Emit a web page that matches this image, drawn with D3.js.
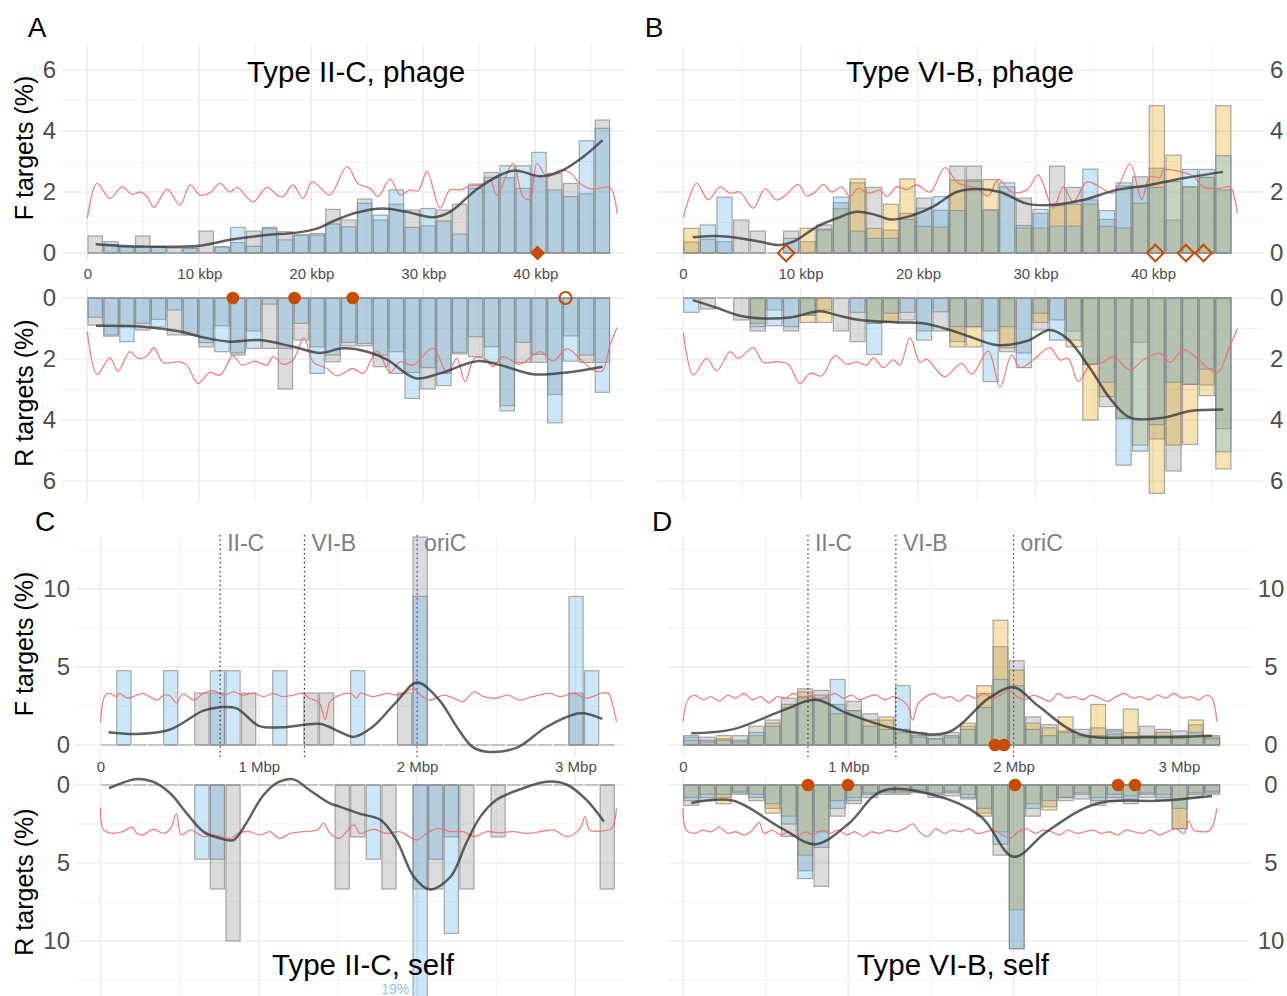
<!DOCTYPE html>
<html><head><meta charset="utf-8">
<script src="https://cdn.jsdelivr.net/npm/d3@7"></script>
<style>body{margin:0;background:#fff}svg{display:block}text{font-family:"Liberation Sans",Arial,Helvetica,sans-serif}</style>
</head><body><script>
// ---------------- DATA ----------------
const PHAGE_BIN = 1.415;   // kbp per bin (33 bins)
const SELF_BIN = 0.0985;   // Mbp per bin (33 bins)
const phageTicks = [0,10,20,30,40];
const selfTicks = [0,1,2,3];
const phageY = [0,2,4,6];
const selfY = [0,5,10];
const loci = [["II-C",0.756],["VI-B",1.288],["oriC",2.0]];

// Panel A (Type II-C, phage)
const A_F_gray = [0.56,0.37,0.2,0.56,0.2,0.16,0.16,0.72,0.2,0.34,0.72,0.8,0.7,0.59,0.64,1.43,1.08,1.77,1.08,1.6,1.41,0.89,1.41,1.6,2.12,2.64,2.47,2.12,2.5,2.61,2.28,1.94,4.36];
const A_F_blue = [0,0.27,0.2,0.2,0.2,0,0.16,0,0.2,0.84,0.22,0.84,0.43,0.59,0.59,0.95,0.86,1.63,1.24,2.07,0.84,1.46,1.05,0.62,2.26,2.48,2.86,2.86,3.3,2.07,1.85,3.68,4.09];
const A_R_gray = [0.89,1.21,0.94,1.05,0.7,1.21,1.21,1.6,0.91,1.87,1.08,1.65,2.98,1.38,1.6,2.09,1.57,1.57,2.25,1.76,2.44,2.98,2.47,1.78,1.92,1.6,3.53,2.11,2.11,3.16,1.24,2.11,2.11];
const A_R_blue = [0.63,1.25,1.43,0.83,0.95,0.39,1.21,1.46,1.76,1.8,1.65,0.2,1.65,0.83,2.47,1.87,1.45,1.49,1.87,2.47,3.29,2.28,2.87,1.83,1.27,2.11,3.7,1.45,1.85,4.09,2.07,1.87,3.09];
const A_F_smooth = [[0.75,0.29],[5,0.21],[10,0.24],[13,0.45],[16,0.59],[18.5,0.66],[20.5,0.8],[22,1.05],[24,1.32],[26.4,1.46],[28.5,1.35],[30.9,1.17],[32.4,1.35],[35,2.15],[38,2.7],[40.4,2.52],[42.2,2.67],[44.3,3.16],[46,3.7]];
const A_R_smooth = [[0.78,0.91],[5,0.94],[8.3,1.1],[10.1,1.27],[12.7,1.43],[15.4,1.38],[18.4,1.6],[20.8,1.8],[22.8,1.65],[25,1.76],[26.8,2.03],[29.3,2.63],[31.5,2.47],[34.8,2.07],[36.9,2.2],[39.8,2.5],[42.8,2.44],[46,2.25]];
const A_F_red = [[0,1.14],[0.87,2.28],[2.03,1.79],[3.1,2.17],[3.99,1.92],[4.71,2.0],[5.33,1.85],[5.96,1.5],[7.12,2.09],[8.28,1.57],[9.17,2.23],[10.06,1.9],[10.96,1.98],[11.85,2.28],[12.74,2.0],[13.37,2.15],[14.79,1.68],[16.04,2.15],[16.94,1.9],[17.47,1.85],[18.37,2.23],[19.26,1.79],[20.06,2.34],[20.78,2.15],[21.67,1.9],[23.19,2.83],[24.17,2.28],[25.24,2.12],[25.96,1.85],[27.04,2.42],[27.92,1.9],[28.81,2.07],[29.53,2.04],[30.33,2.67],[31.49,1.47],[32.38,2.07],[33.28,2.07],[34.17,2.2],[35.06,2.23],[35.96,2.39],[36.58,1.9],[38.0,2.94],[38.9,1.85],[39.53,1.76],[40.15,2.94],[41.04,2.5],[42.19,2.72],[43.13,2.63],[43.99,2.28],[45.15,2.09],[46.67,2.15],[47.3,1.3]];
const A_R_red = [[0,1.1],[0.87,2.5],[2.03,1.96],[2.74,2.4],[3.81,1.76],[4.53,1.98],[5.33,1.9],[5.96,1.63],[6.76,2.11],[8.28,2.09],[8.9,2.2],[9.88,2.8],[10.96,2.44],[11.85,2.53],[13.01,1.9],[13.81,2.2],[14.97,2.07],[16.04,2.2],[16.58,1.92],[17.47,2.17],[18.37,2.03],[19.35,1.3],[20.15,2.09],[21.4,2.31],[22.29,2.55],[23.72,2.31],[24.62,2.47],[25.87,1.74],[27.03,2.44],[27.92,2.09],[29.08,2.2],[30.87,1.65],[32.12,2.44],[33.01,1.98],[33.72,2.74],[34.62,1.96],[35.69,2.03],[36.22,2.25],[37.12,1.92],[38.63,2.17],[40.42,1.76],[41.58,2.07],[42.83,1.67],[44.26,2.09],[45.15,2.36],[45.96,2.4],[46.67,1.55],[47.3,0.97]];
const A_F_marks = [[40.2,"diamond",true]];
const A_R_marks = [[13.0,"circle",true],[18.5,"circle",true],[23.7,"circle",true],[42.7,"circle",false]];

// Panel B (Type VI-B, phage)
const B_F_gray = [0.36,0.45,0.37,1.08,0.72,0,0.72,0.37,0.92,1.65,2.3,2.15,0.75,1.3,1.8,1.4,2.85,2.85,1.41,2.17,1.8,1.3,2.85,2.15,1.74,1.1,2.2,2.5,2.78,1.08,2.17,2.48,2.07];
const B_F_blue = [0,0.92,1.83,0,0,0,0.48,0,0.78,1.83,0.72,0.48,0.48,1.1,1.47,1.85,1.39,2.35,1.41,2.3,0.9,1.43,0.88,0.88,2.75,1.39,2.3,2.17,2.15,2.34,2.74,2.74,3.19];
const B_F_orange = [0.81,0,0,0,0,0,0,0.81,0.75,1.45,2.43,0.81,1.6,2.43,0.87,0.85,2.39,2.4,2.41,0,0.82,0.82,1.55,1.6,1.6,0.87,0.82,1.63,4.83,3.21,2.17,2.48,4.83];
const B_R_gray = [0,0.36,0,0.72,1.08,0.39,1.08,0.56,0.39,1.08,1.43,0.83,0.77,0.72,1.08,1.08,1.43,0.94,1.08,1.76,1.8,1.05,0.72,1.08,2.17,3.56,3.95,1.45,4.62,5.67,2.83,2.85,4.28];
const B_R_blue = [0.47,0,0,0,0.94,0.91,0.94,0.56,0,0,0.47,1.85,0.5,0.47,1.38,0.45,0.94,0.94,2.74,0.94,2.28,0.5,1.38,1.38,2.17,2.76,5.48,5.02,4.15,2.76,2.83,2.33,5.04];
const B_R_orange = [0,0,0,0,0.83,0,0,0.8,0.8,0,0,0.83,0.77,0,0,0,1.6,1.6,0,1.63,0,0.8,0,1.6,4.0,3.23,3.95,4.82,6.4,4.82,4.8,3.2,5.6];
const B_F_smooth = [[0.83,0.52],[2.87,0.56],[4.57,0.5],[6.55,0.37],[8.26,0.26],[9.39,0.37],[11.38,0.86],[13.08,1.14],[14.78,1.35],[16.49,1.24],[17.62,1.1],[19.32,1.21],[21.28,1.52],[23.29,2.0],[25.0,2.1],[26.98,2.0],[29.25,1.62],[31.23,1.57],[34.04,1.74],[36.91,2.07],[39.74,2.23],[42.55,2.45],[45.96,2.66]];
const B_R_smooth = [[0.83,0.07],[2.87,0.32],[4.85,0.58],[6.83,0.67],[9.11,0.64],[11.66,0.43],[13.08,0.56],[15.06,0.72],[18.19,0.8],[20.45,0.83],[22.72,1.05],[24.43,1.27],[26.7,1.54],[29.25,1.41],[31.23,1.05],[32.66,1.32],[34.64,2.3],[36.34,3.29],[38.04,3.92],[40.88,3.92],[43.15,3.7],[45.98,3.65]];
const B_F_red = [[0.03,1.17],[1.17,2.28],[2.15,1.74],[3.15,2.17],[4.0,1.96],[4.85,2.0],[5.98,1.47],[6.98,2.1],[7.97,1.74],[8.83,1.93],[9.81,2.25],[10.53,1.87],[11.23,2.0],[11.94,2.25],[12.66,2.0],[13.51,2.17],[14.21,1.85],[14.92,2.12],[15.77,1.96],[16.77,2.06],[17.34,1.85],[18.19,2.17],[19.04,2.08],[19.89,2.23],[21.02,2.0],[22.3,2.8],[23.29,2.33],[23.86,2.23],[25.0,2.12],[25.98,1.87],[26.83,2.41],[27.97,2.0],[29.25,2.06],[30.24,2.55],[31.51,1.47],[32.37,2.17],[33.22,1.68],[34.36,2.33],[35.21,2.23],[36.62,1.96],[38.04,2.92],[39.04,1.76],[39.74,2.5],[40.6,2.48],[40.88,2.72],[42.3,2.67],[43.43,2.52],[44.28,2.17],[45.7,2.12],[46.55,2.17],[47.17,1.3]];
const B_R_red = [[0.03,1.13],[0.88,2.52],[2.02,1.98],[2.87,2.39],[4.0,1.76],[4.71,1.98],[5.98,1.63],[6.83,2.11],[7.97,2.09],[8.96,2.17],[9.96,2.8],[10.81,2.47],[11.8,2.55],[12.94,1.89],[13.93,2.17],[14.78,2.09],[15.63,2.2],[16.2,1.96],[17.05,2.28],[17.9,2.03],[18.47,2.2],[19.32,1.3],[20.17,2.11],[20.74,2.0],[21.59,2.36],[22.3,2.58],[23.72,2.14],[24.57,2.5],[25.98,1.74],[26.98,2.91],[27.97,1.87],[28.68,2.28],[29.81,2.03],[31.23,1.63],[32.09,2.03],[32.79,1.98],[33.64,2.74],[34.64,2.2],[35.77,2.11],[36.62,1.92],[38.04,2.36],[39.17,2.03],[40.6,1.81],[41.45,2.11],[42.58,1.7],[43.72,1.96],[44.71,2.31],[45.56,2.44],[46.41,1.7],[47.17,1.02]];
const B_F_marks = [[8.77,"diamond",false],[40.2,"diamond",false],[42.8,"diamond",false],[44.3,"diamond",false]];
const B_R_marks = [];

// Panel C (Type II-C, self)
const C_F_gray = [0,0,0,0,0,0,3.33,3.33,0,3.33,0,0,0,3.33,3.33,0,0,0,0,3.33,13.33,0,0,0,0,0,0,0,0,0,3.33,0,0];
const C_F_blue = [0,4.76,0,0,4.76,0,0,4.76,4.76,0,0,4.76,0,0,0,0,4.76,0,0,0,9.52,0,0,0,0,0,0,0,0,0,9.52,4.76,0];
const C_R_gray = [0,0,0,0,0,0,0,6.67,10,0,0,0,0,0,0,6.67,3.33,0,6.67,0,6.67,6.67,3.33,6.67,0,3.33,0,0,0,0,0,0,6.67];
const C_R_blue = [0,0,0,0,0,0,4.76,4.76,0,0,0,0,0,0,0,0,0,4.76,0,0,19.05,4.76,9.52,0,0,0,0,0,0,0,0,0,0];
const C_F_smooth = [[0.05,0.81],[0.23,0.7],[0.44,0.99],[0.65,2.2],[0.755,2.42],[0.86,2.35],[1.0,1.23],[1.15,1.13],[1.39,1.35],[1.51,0.85],[1.6,0.52],[1.72,1.17],[1.87,2.77],[2.0,4.0],[2.14,2.88],[2.25,1.17],[2.35,-0.12],[2.44,-0.43],[2.63,-0.17],[2.82,1.17],[3.03,2.03],[3.17,1.67]];
const C_R_smooth = [[0.054,0.21],[0.229,-0.38],[0.33,-0.21],[0.44,0.53],[0.545,1.82],[0.65,2.99],[0.755,3.42],[0.84,3.53],[0.92,2.46],[1.03,0.64],[1.13,-0.21],[1.22,-0.36],[1.32,0.32],[1.45,1.18],[1.51,1.39],[1.64,1.85],[1.77,2.24],[1.87,3.53],[1.98,5.9],[2.08,6.7],[2.21,5.9],[2.31,3.74],[2.4,2.03],[2.5,0.96],[2.67,0.21],[2.82,-0.21],[2.95,0.0],[3.07,0.96],[3.18,2.35]];
const C_F_red = [[0,1.45],[0.03,3.2],[0.06,3.31],[0.10,3.1],[0.12,3.31],[0.17,3.0],[0.23,3.2],[0.27,3.31],[0.31,3.1],[0.36,2.88],[0.40,3.2],[0.44,3.14],[0.48,2.7],[0.52,3.27],[0.59,2.88],[0.65,3.31],[0.71,3.48],[0.78,3.2],[0.84,3.4],[0.90,3.2],[0.97,3.31],[1.03,3.1],[1.09,3.31],[1.15,3.1],[1.22,3.2],[1.28,3.31],[1.32,3.0],[1.38,2.72],[1.42,1.65],[1.45,2.78],[1.51,3.2],[1.58,3.31],[1.62,3.0],[1.64,3.31],[1.72,3.1],[1.81,3.31],[1.87,3.2],[1.93,3.4],[1.98,3.63],[2.02,3.2],[2.08,2.88],[2.17,3.2],[2.23,3.0],[2.29,2.78],[2.36,3.4],[2.42,3.1],[2.50,3.0],[2.57,3.2],[2.65,2.88],[2.73,3.1],[2.84,3.31],[2.90,3.1],[2.99,3.31],[3.07,3.0],[3.16,3.31],[3.21,3.31],[3.23,2.78],[3.26,1.5]];
const C_R_red = [[0,1.45],[0.02,2.88],[0.08,3.1],[0.14,2.99],[0.20,2.71],[0.23,3.1],[0.27,3.2],[0.33,2.84],[0.40,3.1],[0.44,2.84],[0.48,1.86],[0.51,3.2],[0.57,2.88],[0.65,3.31],[0.71,3.2],[0.82,3.42],[0.88,3.06],[0.94,2.99],[1.01,3.2],[1.07,2.99],[1.13,3.42],[1.20,3.1],[1.28,2.99],[1.37,2.88],[1.41,2.45],[1.45,3.1],[1.51,3.42],[1.60,2.56],[1.64,3.1],[1.72,2.84],[1.81,3.1],[1.89,2.99],[2.0,3.53],[2.06,3.1],[2.13,2.78],[2.21,2.99],[2.29,2.99],[2.36,3.31],[2.44,2.99],[2.52,3.06],[2.61,2.99],[2.69,3.1],[2.78,2.99],[2.86,2.88],[2.95,3.31],[3.03,2.78],[3.06,2.03],[3.09,2.88],[3.18,2.93],[3.23,2.78],[3.26,1.5]];
const C_F_marks = [];
const C_R_marks = [];

// Panel D (Type VI-B, self)
const D_F_gray = [0.5,0.5,0.4,0.6,1.2,1.6,3.0,3.6,3.5,2.6,2.8,2.0,1.6,1.0,0.8,0.6,0.8,1.2,3.3,6.3,5.4,1.8,1.3,0.9,1.0,1.1,1.0,0.8,1.2,1.0,0.9,1.3,0.6];
const D_F_blue = [0.6,0.3,0.3,0.3,0.8,1.2,2.4,3.1,3.2,4.2,2.2,1.2,1.0,3.8,0.6,0.4,0.6,1.0,2.4,4.2,3.8,1.0,0.6,0.8,0.5,0.6,0.9,0.5,0.6,0.6,0.4,0.8,0.4];
const D_F_orange = [0.3,0.2,0.6,0.2,0.6,1.4,2.6,3.4,3.0,2.0,2.2,1.6,1.8,0.8,0.5,0.4,0.5,1.4,3.8,8.0,4.8,1.4,1.1,1.8,0.6,2.6,0.7,2.3,0.5,0.8,0.6,1.6,0.5];
const D_R_gray = [1.3,1.0,0.8,0.6,1.0,1.5,3.3,5.5,6.5,2.0,1.2,0.8,0.6,0.6,0.5,0.8,0.7,0.9,1.8,4.5,10.5,2.0,1.4,1.0,0.9,1.3,1.0,1.2,0.8,1.0,2.8,0.8,0.6];
const D_R_blue = [1.0,0.8,0.6,0.5,0.8,1.2,2.5,6.0,4.0,1.5,1.0,0.6,0.5,0.4,0.4,0.6,0.5,0.8,1.5,3.8,10.5,1.5,1.0,0.8,0.6,1.0,0.8,0.9,0.6,0.8,1.5,0.6,0.5];
const D_R_orange = [0.8,0.6,1.2,0.4,0.6,1.8,2.0,4.5,3.0,1.0,0.8,0.5,0.4,0.5,0.3,0.5,0.4,0.6,2.0,3.0,8.0,1.2,1.6,0.8,0.5,0.8,0.6,0.7,0.5,0.6,2.8,0.5,0.4];
const D_F_smooth = [[0.05,0.75],[0.3,1.0],[0.6,2.2],[0.8,2.9],[1.0,2.0],[1.3,1.0],[1.6,0.8],[1.85,3.0],[2.0,3.7],[2.15,2.5],[2.4,0.7],[2.8,0.5],[3.2,0.6]];
const D_R_smooth = [[0.05,1.15],[0.3,1.0],[0.6,2.8],[0.8,3.8],[1.0,2.5],[1.2,0.4],[1.5,0.6],[1.8,2.0],[2.0,4.6],[2.2,3.0],[2.5,1.2],[2.9,1.0],[3.2,0.7]];
const D_F_red = [[0,1.5],[0.03,2.9],[0.07,3.2],[0.12,2.9],[0.17,3.1],[0.22,2.8],[0.27,3.2],[0.32,3.0],[0.37,3.3],[0.42,2.9],[0.47,3.1],[0.52,2.7],[0.57,3.1],[0.62,3.0],[0.67,3.3],[0.72,3.0],[0.77,3.2],[0.82,2.9],[0.87,3.1],[0.92,3.3],[0.97,3.0],[1.02,3.2],[1.07,2.9],[1.12,3.1],[1.17,3.2],[1.22,2.9],[1.27,3.1],[1.32,2.9],[1.36,2.5],[1.39,1.6],[1.42,2.6],[1.47,3.1],[1.52,3.3],[1.57,3.0],[1.62,3.1],[1.67,2.8],[1.72,3.2],[1.77,3.0],[1.82,3.3],[1.87,3.0],[1.92,3.2],[1.97,3.5],[2.02,3.1],[2.07,2.9],[2.12,3.2],[2.17,3.0],[2.22,2.8],[2.27,3.3],[2.32,3.0],[2.37,3.1],[2.42,2.9],[2.47,3.2],[2.52,3.0],[2.57,2.8],[2.62,3.1],[2.67,3.3],[2.72,3.0],[2.77,3.1],[2.82,2.9],[2.87,3.2],[2.92,3.0],[2.97,3.3],[3.02,3.0],[3.07,3.1],[3.12,2.9],[3.17,3.2],[3.2,3.0],[3.23,1.5]];
const D_R_red = [[0,1.5],[0.02,2.9],[0.07,3.1],[0.12,2.9],[0.17,3.0],[0.22,2.7],[0.27,3.1],[0.32,3.0],[0.37,3.2],[0.42,2.9],[0.46,2.4],[0.49,3.1],[0.54,2.9],[0.59,3.2],[0.64,3.0],[0.69,3.3],[0.74,3.0],[0.79,3.2],[0.84,2.9],[0.89,3.1],[0.94,2.9],[0.99,3.2],[1.04,3.0],[1.09,3.3],[1.14,3.0],[1.19,3.1],[1.24,2.9],[1.29,3.0],[1.34,2.8],[1.39,2.5],[1.43,3.0],[1.48,3.3],[1.53,2.8],[1.58,3.1],[1.63,2.9],[1.68,3.0],[1.73,2.8],[1.78,3.1],[1.83,3.0],[1.88,2.9],[1.93,3.2],[1.98,3.4],[2.03,3.0],[2.08,2.8],[2.13,3.1],[2.18,2.9],[2.23,3.0],[2.28,3.2],[2.33,2.9],[2.38,3.1],[2.43,3.0],[2.48,2.9],[2.53,3.1],[2.58,3.0],[2.63,3.2],[2.68,2.9],[2.73,3.0],[2.78,3.1],[2.83,2.9],[2.88,3.2],[2.93,3.0],[2.98,2.8],[3.03,3.1],[3.06,2.3],[3.09,2.9],[3.14,3.0],[3.19,2.9],[3.23,1.5]];
const D_F_marks = [[1.887,"circle",true],[1.942,"circle",true]];
const D_R_marks = [[0.756,"circle",true],[0.998,"circle",true],[2.008,"circle",true],[2.632,"circle",true],[2.734,"circle",true]];

// ---------------- DRAW ----------------
const W = 1287, H = 996;
const FONT = '"Liberation Sans",Arial,Helvetica,sans-serif';
const svg = d3.select("body").append("svg").attr("width", W).attr("height", H);
const defs = svg.append("defs");
const FILL = {gray:"#999999", orange:"#E69F00", blue:"#56B4E9"};
const FOP = {gray:0.35, orange:0.3, blue:0.3};
const MARK = "#C84B00";
let cid = 0;

function subplot(o) {
  const x = d3.scaleLinear().domain(o.xDom).range([o.left, o.right]);
  const y = d3.scaleLinear().domain(o.yDom).range(o.down ? [o.top, o.bottom] : [o.bottom, o.top]);
  const g = svg.append("g");
  const grid = (vals, isX, w) => g.append("g").selectAll("line").data(vals).join("line")
      .attr("x1", d => isX ? x(d) : o.left).attr("x2", d => isX ? x(d) : o.right)
      .attr("y1", d => isX ? o.top : y(d)).attr("y2", d => isX ? o.bottom : y(d))
      .attr("stroke", "#ebebeb").attr("stroke-width", w);
  grid(o.xMinor, true, 0.7); grid(o.yMinor, false, 0.7);
  grid(o.xMajor, true, 1.3); grid(o.yMajor, false, 1.3);

  const id = "clip" + (cid++);
  defs.append("clipPath").attr("id", id).append("rect")
    .attr("x", o.left).attr("y", o.top).attr("width", o.right - o.left).attr("height", o.bottom - o.top);
  const p = g.append("g").attr("clip-path", `url(#${id})`);
  const n = o.series[0].v.length;
  const inset = o.bin * 0.045;
  const bx0 = i => x(i * o.bin + inset), bx1 = i => x((i + 1) * o.bin - inset);
  p.append("g").selectAll("line").data(d3.range(n)).join("line")
    .attr("x1", bx0).attr("x2", bx1).attr("y1", y(0)).attr("y2", y(0))
    .attr("stroke", "#888").attr("stroke-opacity", 0.7).attr("stroke-width", 1.2);
  o.series.forEach(s => {
    p.append("g").selectAll("rect").data(s.v.map((v, i) => ({v, i})).filter(d => d.v > 0)).join("rect")
      .attr("x", d => bx0(d.i)).attr("width", d => bx1(d.i) - bx0(d.i))
      .attr("y", d => Math.min(y(0), y(d.v))).attr("height", d => Math.abs(y(d.v) - y(0)))
      .attr("fill", FILL[s.c]).attr("fill-opacity", FOP[s.c])
      .attr("stroke", "#888").attr("stroke-opacity", 0.7).attr("stroke-width", 1.2);
  });
  const line = d3.line().x(d => x(d[0])).y(d => y(d[1])).curve(d3.curveCatmullRom.alpha(0.5));
  p.append("path").datum(o.red).attr("d", line).attr("fill", "none")
    .attr("stroke", "#F26B6B").attr("stroke-opacity", 0.85).attr("stroke-width", 1.3);
  p.append("path").datum(o.smooth).attr("d", line).attr("fill", "none")
    .attr("stroke", "#3a3a3a").attr("stroke-opacity", 0.8).attr("stroke-width", 2.5);
  o.marks.forEach(([pos, shape, filled]) => {
    const cx = x(pos), cy = y(0);
    if (shape === "circle") {
      g.append("circle").attr("cx", cx).attr("cy", cy).attr("r", filled ? 6.3 : 6)
        .attr("fill", filled ? MARK : "none").attr("stroke", MARK).attr("stroke-width", filled ? 0 : 2);
    } else {
      const r = filled ? 7.5 : 8.3;
      g.append("path").attr("d", `M${cx},${cy - r}L${cx + r},${cy}L${cx},${cy + r}L${cx - r},${cy}Z`)
        .attr("fill", filled ? MARK : "none").attr("stroke", MARK).attr("stroke-width", filled ? 0 : 2);
    }
  });
  return {x, y, g};
}

function yTicks(sc, vals, xpos, side, anchor) {
  const ax = (side === "left" ? d3.axisLeft(sc) : d3.axisRight(sc)).tickValues(vals)
    .tickSize(0).tickPadding(0).tickFormat(d3.format("d"));
  const gg = svg.append("g").attr("transform", `translate(${xpos},0)`).call(ax);
  gg.select(".domain").remove();
  gg.selectAll("text").attr("font-size", 24).attr("fill", "#4d4d4d").attr("font-family", FONT);
  if (anchor) gg.selectAll("text").attr("text-anchor", anchor);
}
function xTicks(sc, vals, ypos, fmt) {
  const ax = d3.axisBottom(sc).tickValues(vals).tickSize(0).tickPadding(0).tickFormat(fmt);
  const gg = svg.append("g").attr("transform", `translate(0,${ypos})`).call(ax);
  gg.select(".domain").remove();
  gg.selectAll("text").attr("font-size", 15).attr("fill", "#4d4d4d").attr("font-family", FONT);
}
function txt(t, x, y, size, opts = {}) {
  const e = svg.append("text").attr("x", x).attr("y", y).attr("font-size", size)
    .attr("text-anchor", opts.anchor || "middle").attr("fill", opts.fill || "#000").text(t);
  if (opts.rot) e.attr("transform", `rotate(-90,${x},${y})`);
  return e;
}

const phageMinor = [5,15,25,35,45];
const selfMinor = [0.5,1.5,2.5];
const kfmt = d => d === 0 ? "0" : d + " kbp";
const mfmt = d => d === 0 ? "0" : d + " Mbp";

// ---- Panel A ----
const aXd = [(62 - 87.3) / 11.2, (625 - 87.3) / 11.2];
const aF = subplot({left:62, right:625, top:45, bottom:262, xDom:aXd, yDom:[-0.295, 6.82], down:false, bin:PHAGE_BIN,
  xMajor:phageTicks, xMinor:phageMinor, yMajor:phageY, yMinor:[1,3,5],
  series:[{c:"gray", v:A_F_gray}, {c:"blue", v:A_F_blue}], red:A_F_red, smooth:A_F_smooth, marks:A_F_marks});
const aR = subplot({left:62, right:625, top:288, bottom:500, xDom:aXd, yDom:[-0.328, 6.62], down:true, bin:PHAGE_BIN,
  xMajor:phageTicks, xMinor:phageMinor, yMajor:phageY, yMinor:[1,3,5],
  series:[{c:"gray", v:A_R_gray}, {c:"blue", v:A_R_blue}], red:A_R_red, smooth:A_R_smooth, marks:A_R_marks});
yTicks(aF.y, phageY, 56, "left");
yTicks(aR.y, phageY, 56, "left");
xTicks(aF.x, phageTicks, 268, kfmt);

// ---- Panel B ----
const bXd = [(657 - 683) / 11.75, (1263 - 683) / 11.75];
const bF = subplot({left:657, right:1263, top:45, bottom:262, xDom:bXd, yDom:[-0.295, 6.82], down:false, bin:PHAGE_BIN,
  xMajor:phageTicks, xMinor:phageMinor, yMajor:phageY, yMinor:[1,3,5],
  series:[{c:"gray", v:B_F_gray}, {c:"orange", v:B_F_orange}, {c:"blue", v:B_F_blue}], red:B_F_red, smooth:B_F_smooth, marks:B_F_marks});
const bR = subplot({left:657, right:1263, top:288, bottom:500, xDom:bXd, yDom:[-0.328, 6.62], down:true, bin:PHAGE_BIN,
  xMajor:phageTicks, xMinor:phageMinor, yMajor:phageY, yMinor:[1,3,5],
  series:[{c:"gray", v:B_R_gray}, {c:"orange", v:B_R_orange}, {c:"blue", v:B_R_blue}], red:B_R_red, smooth:B_R_smooth, marks:B_R_marks});
yTicks(bF.y, phageY, 1270, "right");
yTicks(bR.y, phageY, 1270, "right");
xTicks(bF.x, phageTicks, 268, kfmt);

// ---- Panel C ----
const cXd = [(75 - 100.5) / 158.3, (625 - 100.5) / 158.3];
const cF = subplot({left:75, right:625, top:535, bottom:757, xDom:cXd, yDom:[-0.77, 13.46], down:false, bin:SELF_BIN,
  xMajor:selfTicks, xMinor:selfMinor, yMajor:selfY, yMinor:[2.5,7.5,12.5],
  series:[{c:"gray", v:C_F_gray}, {c:"blue", v:C_F_blue}], red:C_F_red, smooth:C_F_smooth, marks:C_F_marks});
const cR = subplot({left:75, right:625, top:775, bottom:996, xDom:cXd, yDom:[-0.64, 13.53], down:true, bin:SELF_BIN,
  xMajor:selfTicks, xMinor:selfMinor, yMajor:selfY, yMinor:[2.5,7.5,12.5],
  series:[{c:"gray", v:C_R_gray}, {c:"blue", v:C_R_blue}], red:C_R_red, smooth:C_R_smooth, marks:C_R_marks});
yTicks(cF.y, selfY, 70, "left");
yTicks(cR.y, selfY, 70, "left");
xTicks(cF.x, selfTicks, 761, mfmt);

// ---- Panel D ----
const dXd = [(668 - 683) / 165.3, (1250 - 683) / 165.3];
const dF = subplot({left:668, right:1250, top:535, bottom:757, xDom:dXd, yDom:[-0.77, 13.46], down:false, bin:SELF_BIN,
  xMajor:selfTicks, xMinor:selfMinor, yMajor:selfY, yMinor:[2.5,7.5,12.5],
  series:[{c:"gray", v:D_F_gray}, {c:"orange", v:D_F_orange}, {c:"blue", v:D_F_blue}], red:D_F_red, smooth:D_F_smooth, marks:D_F_marks});
const dR = subplot({left:668, right:1250, top:775, bottom:996, xDom:dXd, yDom:[-0.64, 13.53], down:true, bin:SELF_BIN,
  xMajor:selfTicks, xMinor:selfMinor, yMajor:selfY, yMinor:[2.5,7.5,12.5],
  series:[{c:"gray", v:D_R_gray}, {c:"orange", v:D_R_orange}, {c:"blue", v:D_R_blue}], red:D_R_red, smooth:D_R_smooth, marks:D_R_marks});
yTicks(dF.y, selfY, 1271, "right", "middle");
yTicks(dR.y, selfY, 1271, "right", "middle");
xTicks(dF.x, selfTicks, 761, mfmt);

// loci lines & labels (self panels)
[cF, dF].forEach(P => {
  loci.forEach(([name, pos]) => {
    const xx = P.x(pos);
    P.g.append("line").attr("x1", xx).attr("x2", xx).attr("y1", 535).attr("y2", 757)
      .attr("stroke", name === "oriC" ? "#3333ee" : "#222").attr("stroke-width", 1.1)
      .attr("stroke-dasharray", "1.5,3");
    txt(name, xx + 7, 551, 23, {anchor:"start", fill:"#7f7f7f"});
  });
});

// label for the clipped 19% bar
txt("19%", cR.x(20.5 * SELF_BIN) - 25, 994, 14, {fill:"#8cc6ec"});

// titles
txt("Type II-C, phage", 356, 82, 29.5);
txt("Type VI-B, phage", 960, 82, 29.5);
txt("Type II-C, self", 363, 975, 29.5);
txt("Type VI-B, self", 953, 975, 29.5);
txt("A", 37, 37, 28); txt("B", 654, 37, 28);
txt("C", 45, 531, 28); txt("D", 662, 531, 28);
txt("F targets (%)", 33, 148, 25, {rot:true});
txt("R targets (%)", 33, 393, 25, {rot:true});
txt("F targets (%)", 33, 644, 25, {rot:true});
txt("R targets (%)", 33, 882, 25, {rot:true});
</script></body></html>
